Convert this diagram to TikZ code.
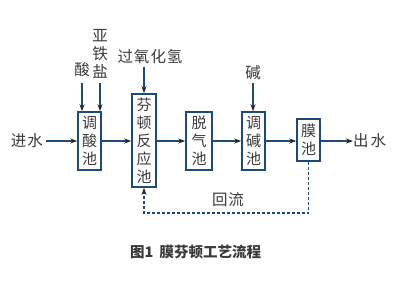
\documentclass[tikz,border=0pt]{standalone}
\usepackage{fontspec}
\newfontfamily\cjk{Noto Sans CJK SC}
\usetikzlibrary{arrows.meta}
\definecolor{boxblue}{HTML}{1C4A7A}
\definecolor{txt}{HTML}{3A3A3A}
\tikzset{
  tank/.style={draw=boxblue, line width=1.6pt, inner sep=0pt, text=txt, font=\cjk\fontsize{15}{18}\selectfont, align=center},
  lbl/.style={text=txt, font=\cjk\fontsize{15.5}{18}\selectfont, inner sep=0pt, align=center},
  flow/.style={draw=boxblue, line width=1.3pt, -{Stealth[length=7pt,width=5pt,color=black!85]}},
  back/.style={draw=boxblue, line width=1.3pt, dash pattern=on 3pt off 2pt}
}
\begin{document}
\begin{tikzpicture}[x=1pt,y=-1pt]
\useasboundingbox (0,0) rectangle (403,286);
\fill[white] (0,0) rectangle (403,286);
% tanks
\node[tank, minimum width=23pt, minimum height=58pt] (t1) at (89.5,141) {调\\酸\\池};
\node[tank, minimum width=24pt, minimum height=93pt] (t2) at (144,140.5) {芬\\顿\\反\\应\\池};
\node[tank, minimum width=26pt, minimum height=58pt] (t3) at (199,141) {脱\\气\\池};
\node[tank, minimum width=23pt, minimum height=58pt] (t4) at (253.5,141) {调\\碱\\池};
\node[tank, minimum width=23pt, minimum height=42pt] (t5) at (308.5,140) {膜\\池};
% labels
\node[lbl, anchor=east] (in) at (43,141) {进\hspace{1pt}水};
\node[lbl, anchor=west] (out) at (353,141) {出\hspace{2pt}水};
\node[lbl] (acid) at (82,70) {酸};
\node[lbl] (fe) at (100,54) {亚\\铁\\盐};
\node[lbl] (h2o2) at (150,57) {过\hspace{1pt}氧\hspace{1pt}化\hspace{1pt}氢};
\node[lbl] (base) at (253,73) {碱};
\node[lbl] (reflux) at (228,200) {回\hspace{1pt}流};
\node[lbl, font=\cjk\bfseries\fontsize{14.5}{17}\selectfont, anchor=west] (cap) at (130,252) {图1\hspace{6pt}膜芬顿工艺流程};
% main flow
\coordinate (inend) at (46,141);
\draw[flow] (inend) -- (t1.west);
\draw[flow] (t1.east) -- (t2.west |- t1.east);
\draw[flow] (t2.east |- t3.west) -- (t3.west);
\draw[flow] (t3.east) -- (t4.west);
\draw[flow] (t4.east) -- (t5.west |- t4.east);
\draw[flow] (t5.east |- t4.east) -- (out.west);
% dosing
\coordinate (a1) at (82,83);
\coordinate (a2) at (100,83);
\coordinate (a3) at (144,67);
\coordinate (a4) at (253,83);
\draw[flow] (a1) -- (a1 |- t1.north);
\draw[flow] (a2) -- (a2 |- t1.north);
\draw[flow] (a3) -- (t2.north);
\draw[flow] (a4) -- (a4 |- t4.north);
% reflux
\coordinate (r1) at (308.5,213);
\coordinate (r2) at (144,213);
\draw[back, flow, dash pattern=on 3pt off 2pt] (t5.south) -- (r1) -- (r2) -- (t2.south);
\end{tikzpicture}
\end{document}
